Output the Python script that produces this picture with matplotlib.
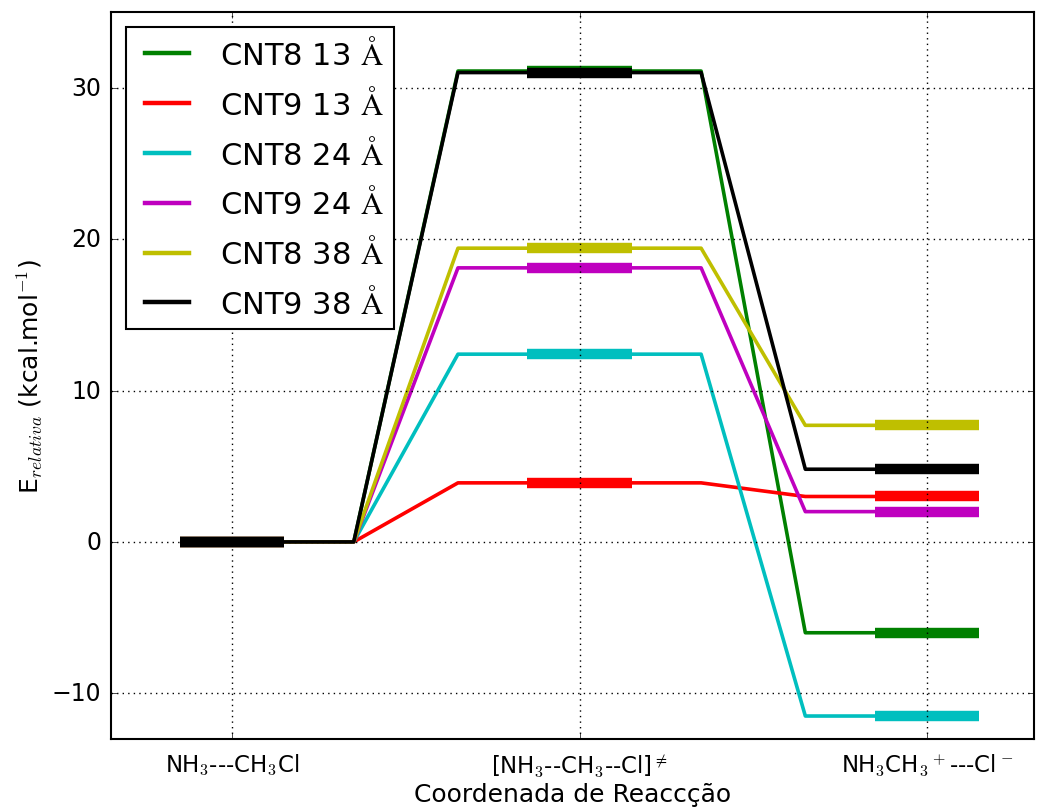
import matplotlib
matplotlib.use('Agg')
import matplotlib.pyplot as plt

plt.style.use('classic')
plt.rcParams['mathtext.fontset'] = 'cm'
plt.rcParams['font.family'] = ['DejaVu Sans']

# energias relativas (kcal/mol) de cada sistema
series = [r'CNT8 13 $\mathrm{\AA}$', r'CNT9 13 $\mathrm{\AA}$',
          r'CNT8 24 $\mathrm{\AA}$', r'CNT9 24 $\mathrm{\AA}$',
          r'CNT8 38 $\mathrm{\AA}$', r'CNT9 38 $\mathrm{\AA}$']
cores = ['g', 'r', 'c', 'm', 'y', 'k']
e_reag = [0.0, 0.0, 0.0, 0.0, 0.0, 0.0]
e_ts = [31.1, 3.9, 12.4, 18.1, 19.4, 31.0]
e_prod = [-6.0, 3.0, -11.5, 2.0, 7.7, 4.8]

estados = [r'NH$_3$---CH$_3$Cl', r'[NH$_3$--CH$_3$--Cl]$^{\neq}$',
           r'NH$_3$CH$_3$$^+$---Cl$^-$']
pos = [1, 2, 3]

w_lig = 0.35   # meia largura do patamar fino
w_niv = 0.15   # meia largura do nivel grosso

fig = plt.figure(figsize=(10.37, 8.12), dpi=100, facecolor='white')
ax = fig.add_axes([0.107, 0.089, 0.89, 0.895])

for lab, c, e0, e1, e2 in zip(series, cores, e_reag, e_ts, e_prod):
    xs = [pos[0], pos[0] + w_lig, pos[1] - w_lig, pos[1] + w_lig,
          pos[2] - w_lig, pos[2]]
    ys = [e0, e0, e1, e1, e2, e2]
    ax.plot(xs, ys, color=c, lw=2.6, label=lab)
    for p, e in zip(pos, [e0, e1, e2]):
        ax.plot([p - w_niv, p + w_niv], [e, e], color=c, lw=7.5,
                solid_capstyle='butt')

ax.set_xlim(0.651, 3.308)
ax.set_ylim(-13, 35)
ax.set_yticks([-10, 0, 10, 20, 30])
ax.set_xticks(pos)
ax.set_xticklabels(estados, fontsize=16.5)
ax.tick_params(axis='x', pad=9)
ax.tick_params(axis='y', labelsize=17, pad=7)
ax.grid(True, color='k', linestyle=':', lw=1)
for s in ax.spines.values():
    s.set_linewidth(1.5)

ax.set_xlabel('Coordenada de Reaccção', fontsize=18, labelpad=2)
ax.set_ylabel(r'E$_{relativa}$ (kcal.mol$^{-1}$)', fontsize=18)

leg = ax.legend(loc='upper left', fontsize=22, handlelength=2.05,
                handletextpad=0.7, labelspacing=0.55, borderpad=0.32)
leg.get_frame().set_linewidth(1.5)
for h in leg.get_lines():
    h.set_linewidth(3.2)

fig.savefig('out.png', dpi=100, facecolor='white')
